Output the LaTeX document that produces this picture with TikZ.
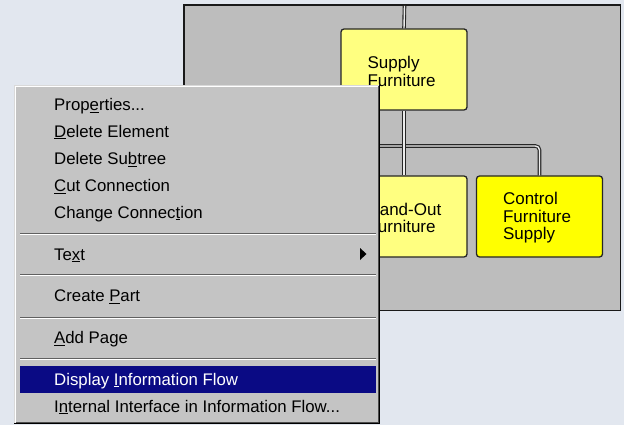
\documentclass[tikz,border=0pt]{standalone}
\usepackage{fontspec}
\setmainfont{Liberation Sans}
\definecolor{bgc}{HTML}{E2E7EF}
\definecolor{panelc}{HTML}{BDBDBD}
\definecolor{menuc}{HTML}{C4C4C4}
\definecolor{navyc}{HTML}{0A0A84}
\definecolor{lyel}{HTML}{FFFF80}
\definecolor{byel}{HTML}{FFFF00}
\newcommand\mnem[1]{\underline{#1}}
\tikzset{
  conn/.style={draw=black!85, line width=1.1pt, double=white!85!gray, double distance=1.4pt, rounded corners=4pt},
  fbox/.style={draw=black!85, line width=1.3pt, rounded corners=3pt, minimum height=81pt,
    minimum width=126pt, inner sep=0pt},
  ftext/.style={text width=76pt, inner sep=0pt, align=left, anchor=west,
    font=\fontsize{17}{17.5}\selectfont},
  item/.style={anchor=mid west, inner sep=0pt, font=\fontsize{16.8}{18}\selectfont},
  sepdark/.style={draw=gray!75!black, line width=1pt},
  seplight/.style={draw=white, line width=1pt}
}
\begin{document}
\begin{tikzpicture}[x=1pt,y=-1pt]
\useasboundingbox[fill=bgc] (0,0) rectangle (624,425);
% panel
\draw[fill=panelc, draw=black!90, line width=1.6pt] (184,5) rectangle (620.5,310.5);
% connectors
\coordinate (top) at (404.5,5.8);
\coordinate (lft) at (330,146);
% boxes
\node[fbox, fill=lyel] (sup) at (404,69.5) {};
\node[fbox, fill=lyel] (ho) at (404,216.5) {};
\node[fbox, fill=byel] (ctl) at (539.5,216.5) {};
\draw[conn] (top) -- (sup.north);
\draw[conn] (lft) -| (ctl.north);
\draw[conn] (sup.south) -- (ho.north);
\node[ftext] (supt) at ([xshift=27pt,yshift=-2pt]sup.west) {Supply\\Furniture};
\node[ftext] (hot) at ([xshift=27pt,yshift=-1.5pt]ho.west) {Hand-Out\\Furniture};
\node[ftext] (ctlt) at ([xshift=27pt,yshift=-1.5pt]ctl.west) {Control\\Furniture\\Supply};
% menu
\fill[menuc] (14,85) rectangle (380,424);
\draw[draw=gray!30, line width=1pt] (14.5,424) -- (14.5,85.5) -- (380,85.5);
\draw[draw=white, line width=1pt] (15.5,423) -- (15.5,86.5) -- (379,86.5);
\draw[draw=black, line width=1pt] (14,423.5) -- (379.5,423.5) -- (379.5,85);
\draw[draw=gray!60!black, line width=1pt] (15.5,422.5) -- (378.5,422.5) -- (378.5,86);
% separators
\foreach \y in {233,274,317,358}{
  \draw[sepdark] (20,\y) -- (376,\y);
  \draw[seplight] (20,\y+1) -- (376,\y+1);
}
% highlight
\fill[navyc] (20,366) rectangle (376,393);
% items
\node[item] (i1) at (54,107.5) {Prop\mnem{e}rties...};
\node[item] (i2) at (54,134.5) {\mnem{D}elete Element};
\node[item] (i3) at (54,161.5) {Delete Su\mnem{b}tree};
\node[item] (i4) at (54,188.5) {\mnem{C}ut Connection};
\node[item] (i5) at (54,215.5) {Change Connec\mnem{t}ion};
\node[item] (i6) at (54,257.5) {Te\mnem{x}t};
\node[item] (i7) at (54,299) {Create \mnem{P}art};
\node[item] (i8) at (54,341) {\mnem{A}dd Page};
\node[item, text=white] (i9) at (54,382.5) {Display \mnem{I}nformation Flow};
\node[item] (i10) at (54,409.5) {I\mnem{n}ternal Interface in Information Flow...};
% submenu arrow
\fill[black] (360,248) -- (366.5,254) -- (360,260) -- cycle;
\end{tikzpicture}
\end{document}
